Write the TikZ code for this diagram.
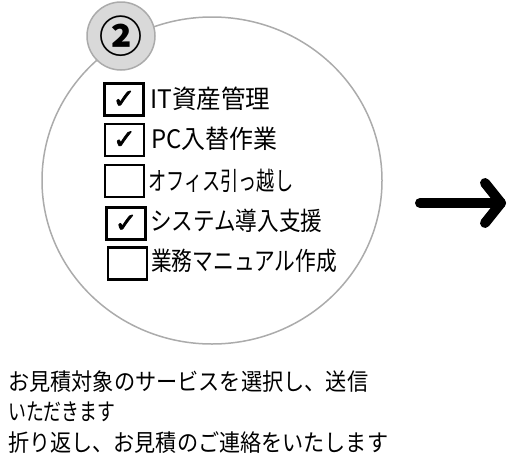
\documentclass[tikz,border=0pt]{standalone}
\usepackage{fontspec}
\usepackage{graphicx}
\usetikzlibrary{shapes.geometric}
\newfontfamily\cjk{Noto Sans CJK JP}
\newfontfamily\symb{DejaVu Sans}[FakeBold=2.5]
\setmainfont{Noto Sans CJK JP}
\definecolor{ringgray}{HTML}{ABABAB}
\definecolor{badgefill}{HTML}{D9D9D9}
\newcommand{\fitw}[2]{\resizebox{#1pt}{\height}{#2}}
\tikzset{
  ring/.style={draw=ringgray, line width=1.5pt},
  badge/.style={circle, draw=ringgray, fill=badgefill, line width=1.5pt, minimum size=68pt, inner sep=0pt},
  cbox/.style={draw=black, line width=2.6pt, minimum width=39pt, minimum height=32pt, inner sep=0pt,
    font=\symb\fontsize{27}{27}\selectfont},
  item/.style={anchor=west, inner sep=0pt, font=\cjk\fontsize{25.5}{25.5}\selectfont},
  note/.style={anchor=west, inner sep=0pt, font=\cjk\fontsize{23.5}{23.5}\selectfont},
  bigarrow/.style={line width=10pt, line cap=round, line join=round, draw=black}
}
\begin{document}
\begin{tikzpicture}[x=1pt,y=-1pt]
\useasboundingbox (0,0) rectangle (510,458);
% big ring
\node[ring, ellipse, minimum width=340pt, minimum height=327pt, inner sep=0pt] (ringA) at (212,180.5) {};
% badge
\node[badge, font=\cjk\bfseries\fontsize{43}{43}\selectfont] (num) at (121,36) {\raisebox{-1pt}{②}};
% checkboxes
\node[cbox] (b1) at (124,99.5) {\raisebox{-1.5pt}{✓}};
\node[cbox] (b2) at (124.5,140) {\raisebox{-1.5pt}{✓}};
\node[cbox] (b3) at (124.5,181) {};
\node[cbox] (b4) at (126,223.5) {\raisebox{-1.5pt}{✓}};
\node[cbox] (b5) at (127.5,263.5) {};
% labels
\node[item] (l1) at (150,99) {\fitw{120}{IT資産管理}};
\node[item] (l2) at (151,139) {\fitw{126}{PC入替作業}};
\node[item] (l3) at (148,181) {\fitw{145}{オフィス引っ越し}};
\node[item] (l4) at (150,221) {\fitw{172}{システム導入支援}};
\node[item] (l5) at (151,261) {\fitw{186}{業務マニュアル作成}};
% note text
\node[note] (t1) at (8,382) {\fitw{360}{お見積対象のサービスを選択し、送信}};
\node[note] (t2) at (8,412) {\fitw{107}{いただきます}};
\node[note] (t3) at (8,443) {\fitw{380}{折り返し、お見積のご連絡をいたします}};
% arrow
\coordinate (aS) at (420,203);
\coordinate (aT) at (501,203);
\coordinate (aU) at (485,183);
\coordinate (aD) at (485,223);
\draw[bigarrow] (aS) -- (aT);
\draw[bigarrow] (aU) -- (aT) -- (aD);
\end{tikzpicture}
\end{document}
